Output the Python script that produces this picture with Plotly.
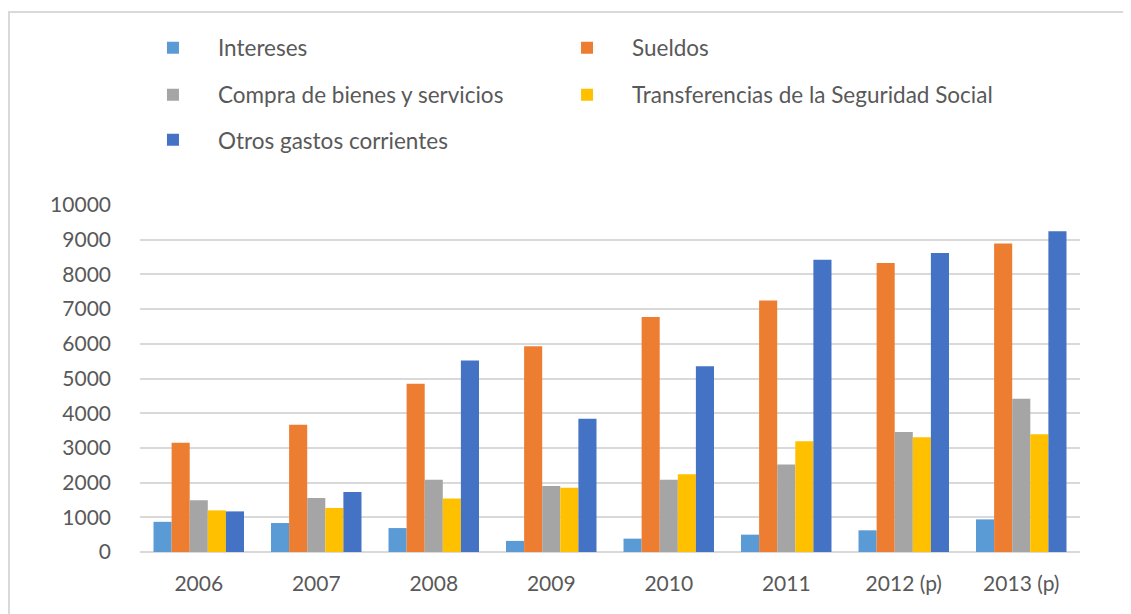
import plotly.graph_objects as go

years = ["2006", "2007", "2008", "2009", "2010", "2011", "2012 (p)", "2013 (p)"]
intereses = [870, 835, 690, 320, 385, 500, 625, 940]
sueldos = [3150, 3670, 4850, 5930, 6770, 7250, 8330, 8890]
compra = [1490, 1555, 2085, 1900, 2085, 2520, 3460, 4420]
transferencias = [1200, 1270, 1540, 1850, 2240, 3190, 3310, 3390]
otros = [1170, 1730, 5520, 3840, 5350, 8420, 8620, 9240]

series = [
    ("Intereses", intereses, "#5B9BD5", "legend"),
    ("Sueldos", sueldos, "#ED7D31", "legend2"),
    ("Compra de bienes y servicios", compra, "#A5A5A5", "legend3"),
    ("Transferencias de la Seguridad Social", transferencias, "#FFC000", "legend4"),
    ("Otros gastos corrientes", otros, "#4472C4", "legend5"),
]

fig = go.Figure()
for name, vals, col, leg in series:
    fig.add_trace(go.Bar(x=years, y=vals, name=name, marker_color=col,
                         marker_line_width=0, legend=leg, showlegend=True))

font = dict(family="Lato", size=21, color="#595959")
legfont = dict(family="Lato", size=22.5, color="#595959")

def leg(x, y):
    return dict(orientation="h", x=x, xanchor="left", y=y, yanchor="middle",
                itemwidth=80, font=legfont, bgcolor="rgba(0,0,0,0)",
                itemclick=False)

c1, c2 = -0.0128, 0.4277
r1, r2, r3 = 1.4524, 1.317, 1.187

fig.update_layout(
    width=1131, height=614,
    margin=dict(l=132, r=59, t=197, b=70, autoexpand=False),
    paper_bgcolor="white", plot_bgcolor="white",
    showlegend=True,
    barmode="group", bargap=0.23, bargroupgap=0,
    font=font,
    legend=leg(c1, r1),
    legend2=leg(c2, r1),
    legend3=leg(c1, r2),
    legend4=leg(c2, r2),
    legend5=leg(c1, r3),
    xaxis=dict(showgrid=False, showline=False, ticks="", tickfont=font,
               ticklabelstandoff=17),
    yaxis=dict(range=[0, 10000], dtick=1000, tickformat="d", showgrid=True,
               gridcolor="#d9d9d9", gridwidth=2, zeroline=True,
               zerolinecolor="#d9d9d9", zerolinewidth=2,
               showline=False, ticks="", tickfont=font, ticklabelstandoff=28),
    shapes=[dict(type="rect", xref="paper", yref="paper",
                 x0=-0.1394, x1=1.3, y0=-0.5, y1=1.556,
                 line=dict(color="#d9d9d9", width=2), layer="below")],
)

fig.write_html("out.html")
